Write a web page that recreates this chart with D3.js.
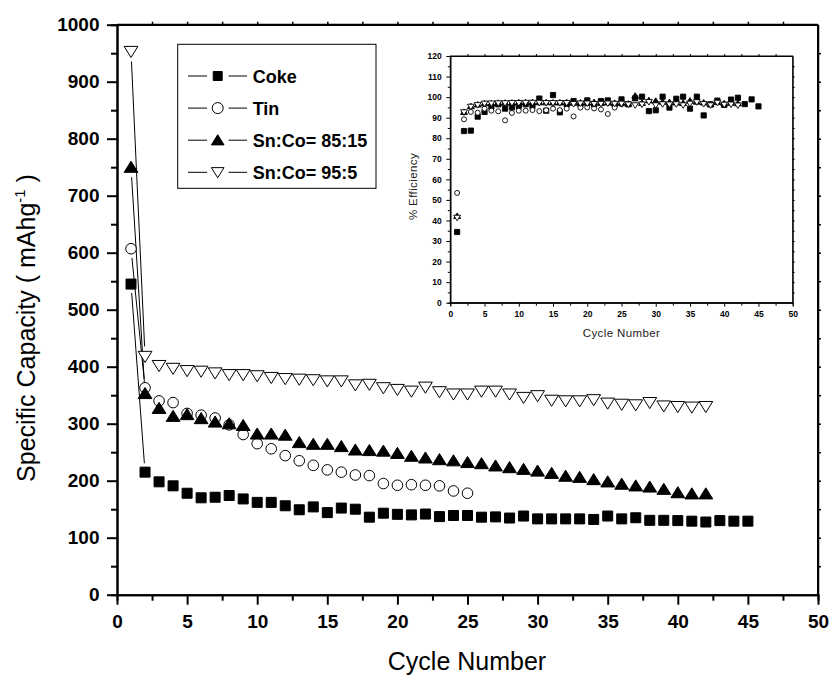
<!DOCTYPE html>
<html>
<head>
<meta charset="utf-8">
<script src="https://cdn.jsdelivr.net/npm/d3@7"></script>
<style>
  body { margin: 0; background: #fff; }
  svg { font-family: "Liberation Sans", Arial, sans-serif; }
</style>
</head>
<body>
<script>
// specific capacity (mAh/g), cycle 1..n
const coke = [545,215,198,191,178,170,171,174,168,162,162,156,149,154,144,152,150,136,143,141,
  140,141.5,137,139,139,136,136.5,134.5,138,133,133,133,133,132,138,133,135,130.5,130.5,130,
  129,127.5,130,129,129];
const tin = [607,363,340,337,318,315,310,298,281,265,256,244,235,227,219,215,210,209,195,192,
  193,192,191,182,178];
const snco85 = [750,353,327,313,316,309,303,300,297,282,282,280,267,264,264,260,254,253,252,248,
  243,240,237,235,232,230,226,223,220,217,213,208,206,202,198,194,191,189,185,179,177,177];
const snco95 = [953,418,402,397,393,392,389,386,386,384,381,379,378,377,375,375,368,369,363,360,
  357,364,356,352,352,357,357,352,346,349,341,340,340,342,336,334,333,337,331,330,329,330];

// % efficiency (inset)
const effCoke = [34.4,83.5,83.7,90.5,92.8,95.3,96.5,94.4,95,95.7,96.5,95.7,99.3,93.4,101,92.6,96.5,98.1,96.5,98.4,
  96.5,98.1,98.4,96.5,98.9,96.5,99.4,100.2,93.2,93.6,100.2,94.9,99.2,100.2,94.4,100.2,91.1,96.5,98.3,96.2,
  98.8,99.7,96.6,98.9,95.5];
const effTin = [53.4,89.2,92.8,92.4,94.4,93.4,93.1,88.7,92.3,93.4,93.4,93.7,93.2,93.6,94.4,93.7,94.4,90.6,94.9,95.0,
  94.5,94.0,91.8,94.9,96.5];
const eff85 = [42.2,92.8,95.6,96.4,97,97,97.2,97.3,97.3,97.5,97.5,97.6,97.5,97.5,97.4,97.4,97.5,97.3,97.4,97.3,
  97.6,97.2,97.4,97.2,97.3,96.8,100.7,97.2,98.5,98.2,97.8,97.6,97.4,97.2,98.3,97.8,97.4,96.5,97.6,97,
  97.3,97];
const eff95 = [41.3,92.6,95.3,96.1,96.8,96.9,97,97,97.1,97.1,97.2,97.2,97.2,97.1,97.1,97.1,97.1,96.6,96.9,96.9,
  96.6,96.7,96.9,96.7,96.8,96.4,96,96.4,97.6,96,96.5,96.4,96.5,96,96.8,97.5,96.6,96,97.2,96.3,
  96.4,95.9];

const seriesNames = ["Coke", "Tin", "Sn:Co= 85:15", "Sn:Co= 95:5"];
const seriesSymbols = ["square", "circle", "triUp", "triDown"];

const xTicks = [0,5,10,15,20,25,30,35,40,45,50];
const yTicks = [0,100,200,300,400,500,600,700,800,900,1000];
const xTicksInset = [0,5,10,15,20,25,30,35,40,45,50];
const yTicksInset = [0,10,20,30,40,50,60,70,80,90,100,110,120];

const width = 831, height = 675;

const svg = d3.select("body").append("svg")
  .attr("width", width)
  .attr("height", height);

// symbol path, s = half size
function symbolPath(type, s){
  if (type === "square") return `M${-s},${-s}H${s}V${s}H${-s}Z`;
  if (type === "circle") return `M${s},0A${s},${s} 0 1,1 ${-s},0A${s},${s} 0 1,1 ${s},0Z`;
  if (type === "triUp") return `M0,${-s}L${s*1.15},${s*0.85}L${-s*1.15},${s*0.85}Z`;
  return `M0,${s}L${s*1.15},${-s*0.85}L${-s*1.15},${-s*0.85}Z`;
}
function fillFor(type){
  return (type === "square" || type === "triUp") ? "#000" : "#fff";
}

// ---------- main chart ----------
const x = d3.scaleLinear().domain([0, 50]).range([117, 818]);
const y = d3.scaleLinear().domain([0, 1000]).range([594.7, 24.7]);

const main = svg.append("g");

// frame (top & right)
main.append("line").attr("x1", x(0)).attr("x2", x(50)).attr("y1", y(1000)).attr("y2", y(1000))
  .attr("stroke", "#000").attr("stroke-width", 2);
main.append("line").attr("x1", x(50)).attr("x2", x(50)).attr("y1", y(0)).attr("y2", y(1000))
  .attr("stroke", "#000").attr("stroke-width", 2);

function styleAxis(g, w){
  g.select(".domain").attr("stroke", "#000").attr("stroke-width", w);
  g.selectAll(".tick line").attr("stroke", "#000").attr("stroke-width", w);
}

// minor ticks
main.append("g").attr("transform", `translate(0,${y(0)})`)
  .call(d3.axisBottom(x).tickValues(d3.range(2.5, 50, 5)).tickSize(6).tickFormat(""))
  .call(g => styleAxis(g, 2));
main.append("g").attr("transform", `translate(${x(0)},0)`)
  .call(d3.axisLeft(y).tickValues(d3.range(50, 1000, 100)).tickSize(6).tickFormat(""))
  .call(g => styleAxis(g, 2));
// mirror ticks
main.append("g").attr("transform", `translate(0,${y(1000)})`)
  .call(d3.axisTop(x).tickValues(d3.range(2.5, 50, 2.5)).tickSize(3).tickSizeOuter(0).tickFormat(""))
  .call(g => styleAxis(g, 1.5));
main.append("g").attr("transform", `translate(${x(50)},0)`)
  .call(d3.axisRight(y).tickValues(d3.range(50, 1000, 50)).tickSize(3).tickSizeOuter(0).tickFormat(""))
  .call(g => styleAxis(g, 1.5));

const xAxis = main.append("g").attr("transform", `translate(0,${y(0)})`)
  .call(d3.axisBottom(x).tickValues(xTicks).tickFormat(d3.format("d"))
    .tickSize(10).tickSizeOuter(0).tickPadding(10));
styleAxis(xAxis, 2);
xAxis.selectAll("text").attr("font-size", 19).attr("font-weight", "bold")
  .attr("font-family", "Liberation Sans, Arial, sans-serif").attr("fill", "#000");

const yAxis = main.append("g").attr("transform", `translate(${x(0)},0)`)
  .call(d3.axisLeft(y).tickValues(yTicks).tickFormat(d3.format("d"))
    .tickSize(10).tickSizeOuter(0).tickPadding(7.5));
styleAxis(yAxis, 2);
yAxis.selectAll("text").attr("font-size", 19).attr("font-weight", "bold")
  .attr("font-family", "Liberation Sans, Arial, sans-serif").attr("fill", "#000");

// axis titles
main.append("text")
  .attr("x", 467).attr("y", 670)
  .attr("text-anchor", "middle")
  .attr("font-size", 25)
  .text("Cycle Number");

const yTitle = main.append("text")
  .attr("transform", "translate(35,328) rotate(-90)")
  .attr("text-anchor", "middle")
  .attr("font-size", 25);
yTitle.append("tspan").text("Specific Capacity ( mAhg");
yTitle.append("tspan").attr("font-size", 15).attr("dy", -10).text("-1");
yTitle.append("tspan").attr("dy", 10).text(" )");

// series
const capSeries = [coke, tin, snco85, snco95];
const markerHalf = [5, 5.3, 6, 6];

capSeries.forEach((vals, si) => {
  const pts = vals.map((v, i) => [x(i + 1), y(v)]);
  const gap = markerHalf[si] + 4;
  const segs = [];
  for (let i = 0; i < pts.length - 1; i++){
    const [x1, y1] = pts[i], [x2, y2] = pts[i + 1];
    const d = Math.hypot(x2 - x1, y2 - y1);
    if (d > 2 * gap + 1){
      const ux = (x2 - x1) / d, uy = (y2 - y1) / d;
      segs.push([x1 + ux * gap, y1 + uy * gap, x2 - ux * gap, y2 - uy * gap]);
    }
  }
  main.append("g").selectAll("line")
    .data(segs)
    .enter()
    .append("line")
    .attr("x1", d => d[0]).attr("y1", d => d[1])
    .attr("x2", d => d[2]).attr("y2", d => d[3])
    .attr("stroke", "#000").attr("stroke-width", 1);
});

capSeries.forEach((vals, si) => {
  const type = seriesSymbols[si];
  main.append("g").selectAll("path")
    .data(vals)
    .enter()
    .append("path")
    .attr("transform", (d, i) => `translate(${x(i + 1)},${y(d)})`)
    .attr("d", symbolPath(type, markerHalf[si]))
    .attr("fill", fillFor(type))
    .attr("stroke", "#000")
    .attr("stroke-width", 1);
});

// legend
const legend = main.append("g");
legend.append("rect")
  .attr("x", 177.7).attr("y", 44.3)
  .attr("width", 198.3).attr("height", 144)
  .attr("fill", "#fff").attr("stroke", "#000").attr("stroke-width", 1);

seriesNames.forEach((name, si) => {
  const ly = 76 + si * 32.1;
  const type = seriesSymbols[si];
  legend.append("line").attr("x1", 188).attr("x2", 207).attr("y1", ly).attr("y2", ly)
    .attr("stroke", "#000").attr("stroke-width", 1);
  legend.append("line").attr("x1", 228.5).attr("x2", 247).attr("y1", ly).attr("y2", ly)
    .attr("stroke", "#000").attr("stroke-width", 1);
  legend.append("path")
    .attr("transform", `translate(217.7,${ly})`)
    .attr("d", symbolPath(type, type === "square" ? 4.5 : 5.5))
    .attr("fill", fillFor(type))
    .attr("stroke", "#000").attr("stroke-width", 1);
  legend.append("text")
    .attr("x", 252.7).attr("y", ly + 6.5)
    .attr("font-size", 18).attr("font-weight", "bold")
    .text(name);
});

// ---------- inset ----------
const xi = d3.scaleLinear().domain([0, 50]).range([450.3, 792.7]);
const yi = d3.scaleLinear().domain([0, 120]).range([302.7, 56]);

const inset = svg.append("g");

inset.append("rect")
  .attr("x", xi(0)).attr("y", yi(120))
  .attr("width", xi(50) - xi(0)).attr("height", yi(0) - yi(120))
  .attr("fill", "none").attr("stroke", "#000").attr("stroke-width", 1);

inset.append("g").attr("transform", `translate(0,${yi(0)})`)
  .call(d3.axisBottom(xi).tickValues(d3.range(2.5, 50, 5)).tickSize(3).tickFormat(""))
  .call(g => styleAxis(g, 1));
inset.append("g").attr("transform", `translate(${xi(0)},0)`)
  .call(d3.axisLeft(yi).tickValues(d3.range(5, 120, 10)).tickSize(2.5).tickFormat(""))
  .call(g => styleAxis(g, 1));
inset.append("g").attr("transform", `translate(0,${yi(120)})`)
  .call(d3.axisTop(xi).tickValues(d3.range(2.5, 50, 2.5)).tickSize(2).tickSizeOuter(0).tickFormat(""))
  .call(g => styleAxis(g, 1));
inset.append("g").attr("transform", `translate(${xi(50)},0)`)
  .call(d3.axisRight(yi).tickValues(d3.range(5, 120, 5)).tickSize(2).tickSizeOuter(0).tickFormat(""))
  .call(g => styleAxis(g, 1));

const xiAxis = inset.append("g").attr("transform", `translate(0,${yi(0)})`)
  .call(d3.axisBottom(xi).tickValues(xTicksInset).tickSize(4).tickSizeOuter(0).tickPadding(4.5));
styleAxis(xiAxis, 1);
xiAxis.selectAll("text").attr("font-size", 8.5).attr("font-weight", "bold")
  .attr("font-family", "Liberation Sans, Arial, sans-serif").attr("fill", "#000");

const yiAxis = inset.append("g").attr("transform", `translate(${xi(0)},0)`)
  .call(d3.axisLeft(yi).tickValues(yTicksInset).tickSize(4).tickSizeOuter(0).tickPadding(4.5));
styleAxis(yiAxis, 1);
yiAxis.selectAll("text").attr("font-size", 8.5).attr("font-weight", "bold")
  .attr("font-family", "Liberation Sans, Arial, sans-serif").attr("fill", "#000");

inset.append("text")
  .attr("x", 621.5).attr("y", 337)
  .attr("text-anchor", "middle")
  .attr("font-size", 11.5).attr("letter-spacing", 0.4).attr("fill", "#222")
  .text("Cycle Number");
inset.append("text")
  .attr("transform", "translate(417,186.5) rotate(-90)")
  .attr("text-anchor", "middle")
  .attr("font-size", 11.5).attr("letter-spacing", 0.4).attr("fill", "#222")
  .text("% Efficiency");

const effSeries = [effCoke, effTin, eff85, eff95];
const insetHalf = [2.6, 2.5, 3, 3];
effSeries.forEach((vals, si) => {
  const type = seriesSymbols[si];
  inset.append("g").selectAll("path")
    .data(vals)
    .enter()
    .append("path")
    .attr("transform", (d, i) => `translate(${xi(i + 1)},${yi(d)})`)
    .attr("d", symbolPath(type, insetHalf[si]))
    .attr("fill", fillFor(type))
    .attr("stroke", "#000")
    .attr("stroke-width", 0.9);
});
</script>
</body>
</html>
